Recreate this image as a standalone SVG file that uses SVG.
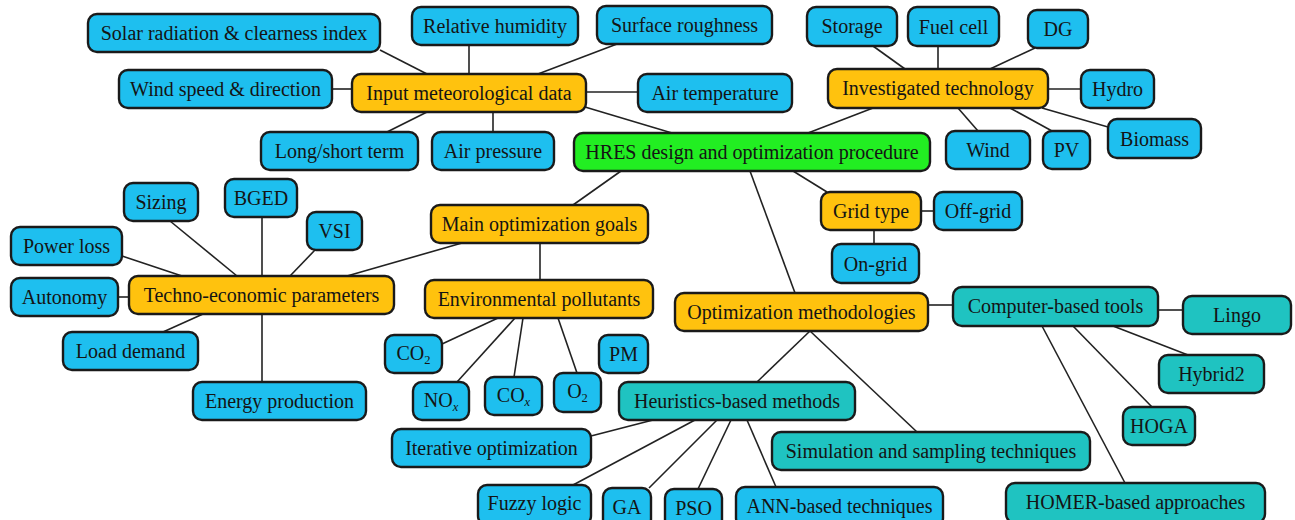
<svg xmlns="http://www.w3.org/2000/svg" width="1295" height="520" viewBox="0 0 1295 520">
<style>
rect{stroke:#1a1a1a;stroke-width:2.4}
.b{fill:#1EBFEF}.o{fill:#FFC20E}.g{fill:#22EE22}.t{fill:#1FC3C1}
text{font-family:"Liberation Serif","Times New Roman",serif;font-size:20px;fill:#141414;text-anchor:middle}
.sub{font-size:12.5px}
#edges line{stroke:#222;stroke-width:1.6}
</style>
<rect x="0" y="0" width="1295" height="520" fill="#fff" style="stroke:none"/>
<g id="edges">
<line x1="380" y1="50" x2="427" y2="74"/>
<line x1="332" y1="89" x2="352" y2="89"/>
<line x1="387" y1="132" x2="427" y2="112"/>
<line x1="469" y1="45" x2="469" y2="74"/>
<line x1="617" y1="44" x2="538" y2="74"/>
<line x1="586" y1="92" x2="638" y2="92"/>
<line x1="493" y1="112" x2="493" y2="132"/>
<line x1="585" y1="107" x2="672" y2="133"/>
<line x1="808" y1="133" x2="873" y2="108"/>
<line x1="873" y1="46" x2="905" y2="69"/>
<line x1="938" y1="46" x2="938" y2="69"/>
<line x1="1035" y1="48" x2="990" y2="69"/>
<line x1="1048" y1="89" x2="1081" y2="89"/>
<line x1="958" y1="108" x2="978" y2="131"/>
<line x1="1010" y1="108" x2="1052" y2="131"/>
<line x1="1042" y1="108" x2="1108" y2="127"/>
<line x1="621" y1="171" x2="573" y2="205"/>
<line x1="750" y1="171" x2="795" y2="293"/>
<line x1="793" y1="171" x2="827" y2="192"/>
<line x1="921" y1="211" x2="934" y2="211"/>
<line x1="874" y1="230" x2="874" y2="244"/>
<line x1="462" y1="243" x2="347" y2="276"/>
<line x1="540" y1="243" x2="540" y2="280"/>
<line x1="170" y1="221" x2="237" y2="276"/>
<line x1="262" y1="217" x2="262" y2="276"/>
<line x1="315" y1="250" x2="290" y2="276"/>
<line x1="122" y1="256" x2="182" y2="276"/>
<line x1="118" y1="297" x2="129" y2="297"/>
<line x1="163" y1="332" x2="203" y2="314"/>
<line x1="262" y1="314" x2="262" y2="382"/>
<line x1="442" y1="344" x2="498" y2="318"/>
<line x1="457" y1="382" x2="515" y2="318"/>
<line x1="514" y1="377" x2="523" y2="318"/>
<line x1="577" y1="373" x2="558" y2="318"/>
<line x1="928" y1="305" x2="953" y2="305"/>
<line x1="810" y1="331" x2="757" y2="382"/>
<line x1="810" y1="331" x2="917" y2="432"/>
<line x1="1158" y1="310" x2="1183" y2="310"/>
<line x1="1113" y1="326" x2="1188" y2="355"/>
<line x1="1073" y1="326" x2="1152" y2="407"/>
<line x1="1042" y1="326" x2="1125" y2="483"/>
<line x1="653" y1="420" x2="591" y2="436"/>
<line x1="695" y1="420" x2="573" y2="485"/>
<line x1="717" y1="420" x2="649" y2="488"/>
<line x1="731" y1="420" x2="698" y2="489"/>
<line x1="747" y1="420" x2="776" y2="487"/>
</g>
<g id="solar"><rect class="b" x="88" y="14" width="292" height="38" rx="9"/><text x="234" y="40">Solar radiation &amp; clearness index</text></g>
<g id="windsd"><rect class="b" x="119" y="70" width="213" height="38" rx="9"/><text x="225.5" y="96">Wind speed &amp; direction</text></g>
<g id="imd"><rect class="o" x="352" y="74" width="234" height="38" rx="9"/><text x="469" y="100">Input meteorological data</text></g>
<g id="longshort"><rect class="b" x="261" y="132" width="157" height="38" rx="9"/><text x="339.5" y="158">Long/short term</text></g>
<g id="relhum"><rect class="b" x="412" y="7" width="166" height="38" rx="9"/><text x="495" y="33">Relative humidity</text></g>
<g id="surfrough"><rect class="b" x="597" y="6" width="175" height="38" rx="9"/><text x="684.5" y="32">Surface roughness</text></g>
<g id="airtemp"><rect class="b" x="638" y="74" width="154" height="38" rx="9"/><text x="715" y="100">Air temperature</text></g>
<g id="airpress"><rect class="b" x="432" y="132" width="122" height="38" rx="9"/><text x="493" y="158">Air pressure</text></g>
<g id="hres"><rect class="g" x="574" y="133" width="356" height="38" rx="9"/><text x="752" y="159">HRES design and optimization procedure</text></g>
<g id="storage"><rect class="b" x="807" y="7" width="90" height="39" rx="9"/><text x="852" y="33">Storage</text></g>
<g id="fuelcell"><rect class="b" x="908" y="7" width="91" height="39" rx="9"/><text x="953.5" y="33.5">Fuel cell</text></g>
<g id="dg"><rect class="b" x="1028" y="10" width="60" height="38" rx="9"/><text x="1058" y="36">DG</text></g>
<g id="invtech"><rect class="o" x="828" y="69" width="220" height="39" rx="9"/><text x="938" y="95">Investigated technology</text></g>
<g id="hydro"><rect class="b" x="1081" y="70" width="73" height="38" rx="9"/><text x="1117.5" y="96">Hydro</text></g>
<g id="biomass"><rect class="b" x="1108" y="119" width="93" height="39" rx="9"/><text x="1154.5" y="145.5">Biomass</text></g>
<g id="wind"><rect class="b" x="946" y="131" width="84" height="38" rx="9"/><text x="988" y="157">Wind</text></g>
<g id="pv"><rect class="b" x="1043" y="131" width="47" height="38" rx="9"/><text x="1066.5" y="157">PV</text></g>
<g id="sizing"><rect class="b" x="124" y="183" width="74" height="38" rx="9"/><text x="161" y="209">Sizing</text></g>
<g id="bged"><rect class="b" x="225" y="179" width="72" height="38" rx="9"/><text x="261" y="205">BGED</text></g>
<g id="vsi"><rect class="b" x="307" y="212" width="55" height="38" rx="9"/><text x="334.5" y="238">VSI</text></g>
<g id="powerloss"><rect class="b" x="11" y="227" width="111" height="38" rx="9"/><text x="66.5" y="253">Power loss</text></g>
<g id="autonomy"><rect class="b" x="11" y="278" width="107" height="38" rx="9"/><text x="64.5" y="304">Autonomy</text></g>
<g id="techno"><rect class="o" x="129" y="276" width="265" height="38" rx="9"/><text x="261.5" y="302">Techno-economic parameters</text></g>
<g id="loaddemand"><rect class="b" x="63" y="332" width="135" height="38" rx="9"/><text x="130.5" y="358">Load demand</text></g>
<g id="energyprod"><rect class="b" x="193" y="382" width="173" height="38" rx="9"/><text x="279.5" y="408">Energy production</text></g>
<g id="mog"><rect class="o" x="431" y="205" width="217" height="38" rx="9"/><text x="539.5" y="231">Main optimization goals</text></g>
<g id="envpoll"><rect class="o" x="425" y="280" width="228" height="38" rx="9"/><text x="539" y="306">Environmental pollutants</text></g>
<g id="co2"><rect class="b" x="385" y="335" width="57" height="38" rx="9"/><text x="413.5" y="360">CO<tspan class="sub" dy="4">2</tspan></text></g>
<g id="nox"><rect class="b" x="413" y="382" width="56" height="38" rx="9"/><text x="441" y="407">NO<tspan class="sub" dy="4" font-style="italic">x</tspan></text></g>
<g id="cox"><rect class="b" x="485" y="377" width="57" height="38" rx="9"/><text x="513.5" y="402">CO<tspan class="sub" dy="4" font-style="italic">x</tspan></text></g>
<g id="o2"><rect class="b" x="554" y="373" width="47" height="39" rx="9"/><text x="577.5" y="398">O<tspan class="sub" dy="4">2</tspan></text></g>
<g id="pm"><rect class="b" x="599" y="335" width="49" height="38" rx="9"/><text x="623.5" y="361">PM</text></g>
<g id="optmeth"><rect class="o" x="675" y="293" width="253" height="38" rx="9"/><text x="801.5" y="319">Optimization methodologies</text></g>
<g id="heur"><rect class="t" x="619" y="382" width="236" height="38" rx="9"/><text x="737" y="408">Heuristics-based methods</text></g>
<g id="gridtype"><rect class="o" x="821" y="192" width="100" height="38" rx="9"/><text x="871" y="218">Grid type</text></g>
<g id="offgrid"><rect class="b" x="934" y="192" width="88" height="38" rx="9"/><text x="978" y="218">Off-grid</text></g>
<g id="ongrid"><rect class="b" x="832" y="244" width="87" height="39" rx="9"/><text x="875.5" y="270.5">On-grid</text></g>
<g id="cbt"><rect class="t" x="953" y="287" width="205" height="39" rx="9"/><text x="1055.5" y="313">Computer-based tools</text></g>
<g id="lingo"><rect class="t" x="1183" y="296" width="108" height="38" rx="9"/><text x="1237" y="322">Lingo</text></g>
<g id="hybrid2"><rect class="t" x="1159" y="355" width="105" height="38" rx="9"/><text x="1211.5" y="381">Hybrid2</text></g>
<g id="hoga"><rect class="t" x="1123" y="407" width="72" height="38" rx="9"/><text x="1159" y="433">HOGA</text></g>
<g id="simul"><rect class="t" x="772" y="432" width="318" height="38" rx="9"/><text x="931" y="458">Simulation and sampling techniques</text></g>
<g id="homer"><rect class="t" x="1006" y="483" width="259" height="40" rx="9"/><text x="1135.5" y="509">HOMER-based approaches</text></g>
<g id="iter"><rect class="b" x="392" y="429" width="199" height="38" rx="9"/><text x="491.5" y="455">Iterative optimization</text></g>
<g id="fuzzy"><rect class="b" x="478" y="485" width="113" height="40" rx="9"/><text x="534.5" y="509.5">Fuzzy logic</text></g>
<g id="ga"><rect class="b" x="603" y="488" width="48" height="40" rx="9"/><text x="627" y="513.5">GA</text></g>
<g id="pso"><rect class="b" x="665" y="489" width="57" height="40" rx="9"/><text x="693.5" y="514.5">PSO</text></g>
<g id="ann"><rect class="b" x="736" y="487" width="207" height="40" rx="9"/><text x="839.5" y="512.5">ANN-based techniques</text></g>
</svg>
